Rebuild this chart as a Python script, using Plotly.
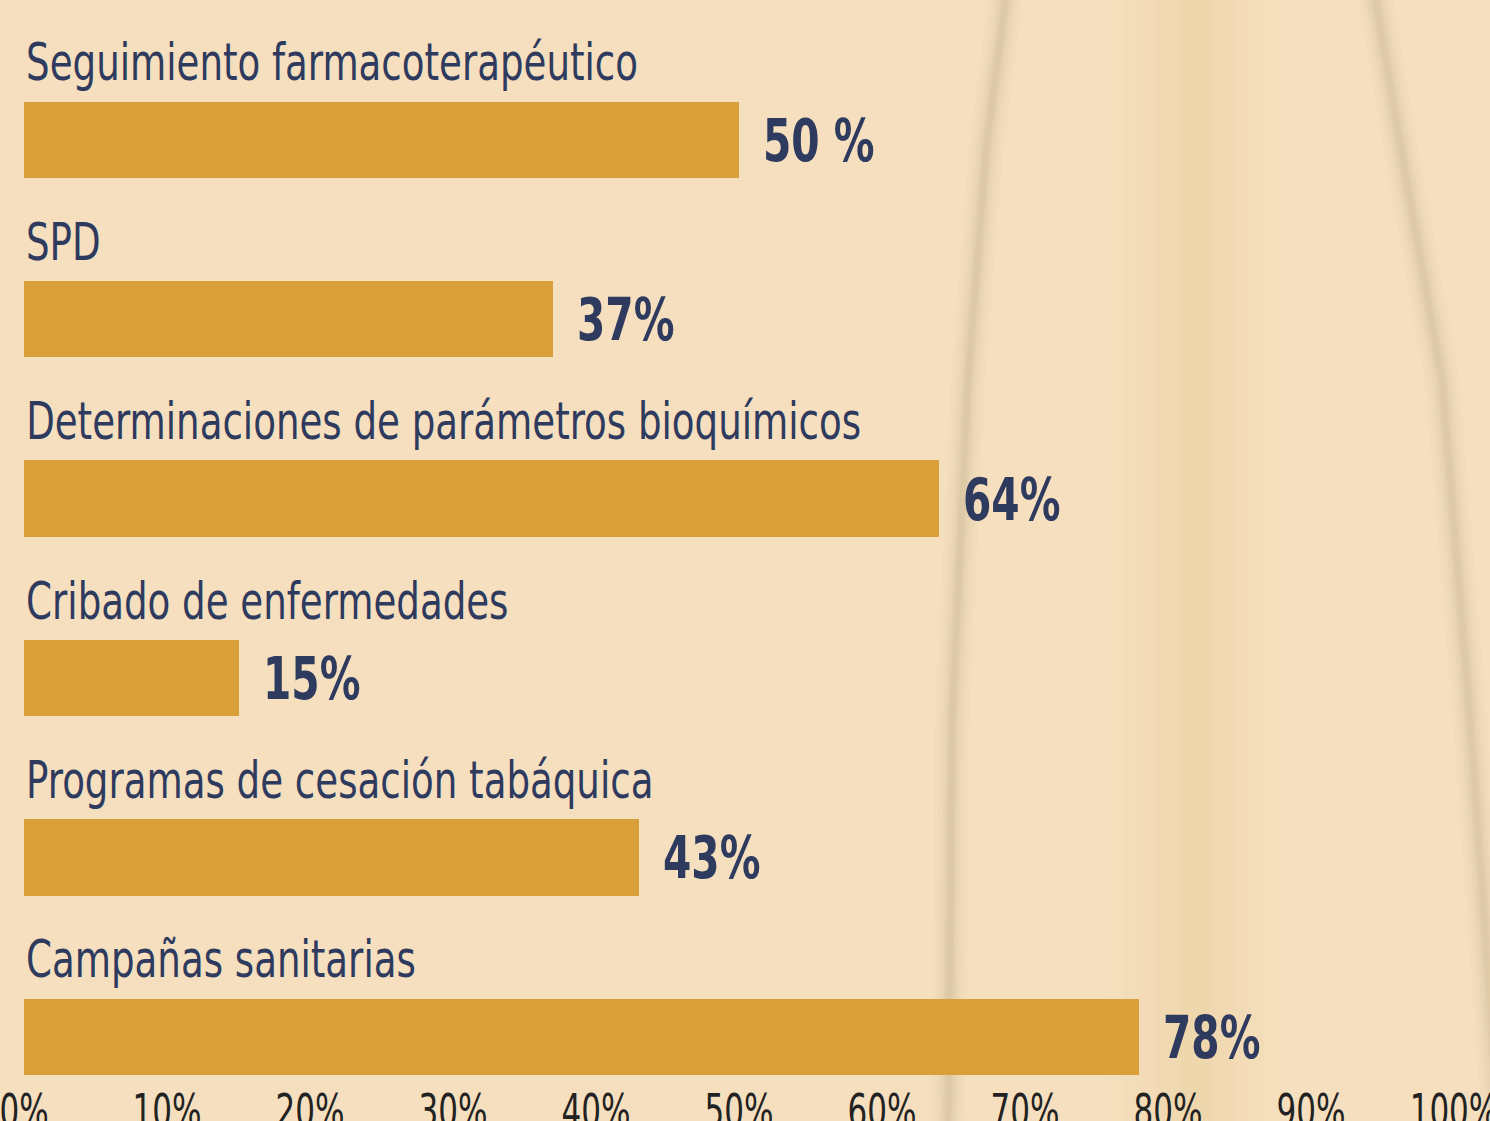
import plotly.graph_objects as go

categories = [
    "Seguimiento farmacoterapéutico",
    "SPD",
    "Determinaciones de parámetros bioquímicos",
    "Cribado de enfermedades",
    "Programas de cesación tabáquica",
    "Campañas sanitarias",
]
values = [50, 37, 64, 15, 43, 78]
value_labels = ["50 %", "37%", "64%", "15%", "43%", "78%"]
tick_values = [0, 10, 20, 30, 40, 50, 60, 70, 80, 90, 100]
tick_labels = ["0%", "10%", "20%", "30%", "40%", "50%", "60%", "70%", "80%", "90%", "100%"]

FONT = "DejaVu Sans Condensed, Liberation Sans Narrow, sans-serif"
NAVY = "#2e3a5e"
BAR = "#d9a03a"
BG = "#f5dfbf"

ypos = list(range(len(categories)))

fig = go.Figure()
fig.add_trace(go.Bar(
    x=values, y=ypos, orientation="h", width=0.425,
    marker=dict(color=BAR, line=dict(width=0)),
    hoverinfo="skip",
))

for i, (c, v, lab) in enumerate(zip(categories, values, value_labels)):
    fig.add_annotation(x=0, y=i, text=c, showarrow=False, xanchor="left", yanchor="middle",
                       yshift=77, name="cat",
                       font=dict(family=FONT, size=51, color=NAVY))
    fig.add_annotation(x=v, y=i, text="<b>" + lab + "</b>", showarrow=False, xanchor="left",
                       yanchor="middle", xshift=22, yshift=-1, name="val",
                       font=dict(family=FONT, size=58, color=NAVY))

# decorative background streaks (paper coords)
PW, PH = 1490 - 24 - 36, 1121 - 50 - 41
def pp(xp, yp):
    return (xp - 24) / PW, 1 - (yp - 50) / PH

def path(points):
    s = ""
    for k, (xp, yp) in enumerate(points):
        a, b = pp(xp, yp)
        s += ("M" if k == 0 else " L") + f"{a:.4f},{b:.4f}"
    return s

shapes = []
def streak(points, color, widths_opac):
    for w, o in widths_opac:
        shapes.append(dict(type="path", xref="paper", yref="paper", path=path(points),
                           line=dict(color=color, width=w), fillcolor="rgba(0,0,0,0)",
                           opacity=o, layer="below"))

streak([(1195, -20), (1195, 1140)], "#efcf95",
       [(170, 0.05), (140, 0.06), (110, 0.07), (80, 0.08), (55, 0.09), (30, 0.1)])
streak([(1008, -20), (986, 150), (968, 380), (952, 720), (948, 1140)], "#cdb994",
       [(34, 0.06), (26, 0.08), (18, 0.12), (11, 0.18), (6, 0.25)])
streak([(1372, -20), (1410, 200), (1442, 380), (1470, 720), (1500, 1140)], "#cdb994",
       [(34, 0.06), (26, 0.08), (18, 0.12), (11, 0.18), (6, 0.22)])

fig.update_layout(
    template="none",
    width=1490, height=1121,
    margin=dict(l=24, r=36, t=50, b=41, autoexpand=False),
    paper_bgcolor=BG, plot_bgcolor="rgba(0,0,0,0)",
    showlegend=False, bargap=0,
    shapes=shapes,
    xaxis=dict(range=[0, 100], tickvals=tick_values, ticktext=tick_labels,
               showgrid=False, zeroline=False, showline=False, ticks="",
               automargin=False, ticklabeloverflow="allow",
               tickfont=dict(family=FONT, size=46, color="#222222"), fixedrange=True),
    yaxis=dict(range=[5.24, -0.5], showticklabels=False, showgrid=False, zeroline=False,
               showline=False, ticks="", automargin=False, fixedrange=True),
)

post = """
document.body.style.margin='0';
function squeeze(sel, s, mode){
  document.querySelectorAll(sel).forEach(function(t){
    var b=t.getBBox();
    var cx = mode==='mid' ? b.x+b.width/2 : b.x;
    var T = t.getAttribute('transform')||'';
    t.setAttribute('transform', T+' translate('+cx+',0) scale('+s+',1) translate('+(-cx)+',0)');
  });
}
var anns=document.querySelectorAll('.annotation-text');
anns.forEach(function(t){
  var bold = t.innerHTML.indexOf('<b')>=0 || t.querySelector('tspan[style*="bold"]');
  var b=t.getBBox(); var cx=b.x;
  var T=t.getAttribute('transform')||'';
  var s = bold ? 0.78 : 0.81;
  t.setAttribute('transform', T+' translate('+cx+',0) scale('+s+',1) translate('+(-cx)+',0)');
});
squeeze('.xtick text', 0.75, 'mid');
"""

fig.write_html("out.html", post_script=post, config={"displayModeBar": False})
